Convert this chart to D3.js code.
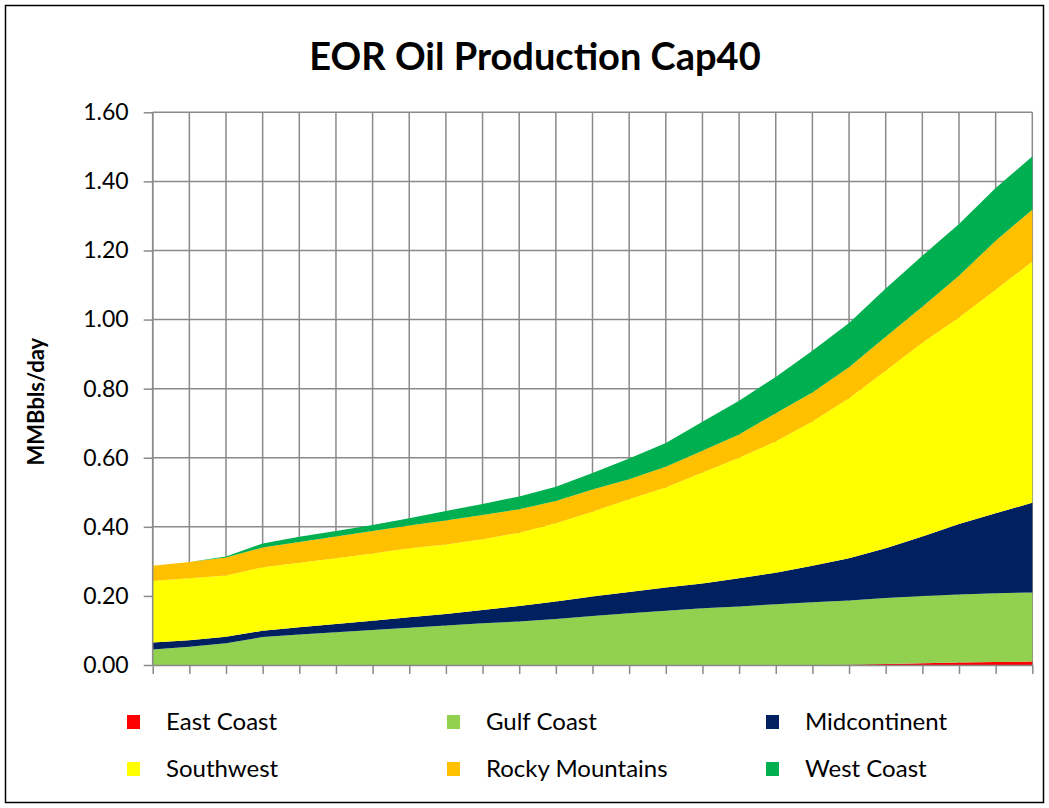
<!DOCTYPE html>
<html>
<head>
<meta charset="utf-8">
<script src="https://cdn.jsdelivr.net/npm/d3@7"></script>
<style>
  html, body { margin: 0; padding: 0; background: #fff; }
  svg { display: block; font-family: Lato, "Open Sans", sans-serif; }
</style>
</head>
<body>
<svg id="chart" width="1049" height="808"></svg>
<script>
// Time steps along the horizontal axis (unlabelled in the chart)
const periods = [1, 2, 3, 4, 5, 6, 7, 8, 9, 10, 11, 12, 13, 14, 15, 16, 17, 18, 19, 20, 21, 22, 23, 24, 25];

// Regional EOR oil production, MMBbls/day
const eastCoast      = [0, 0, 0, 0, 0, 0, 0, 0, 0, 0, 0, 0, 0, 0, 0, 0, 0, 0, 0, 0.001, 0.003, 0.005, 0.007, 0.009, 0.010];
const gulfCoast      = [0.045, 0.053, 0.063, 0.081, 0.088, 0.095, 0.101, 0.108, 0.114, 0.121, 0.126, 0.133, 0.142, 0.150, 0.157, 0.164, 0.169, 0.176, 0.182, 0.186, 0.191, 0.195, 0.197, 0.199, 0.200];
const midcontinent   = [0.020, 0.019, 0.019, 0.018, 0.021, 0.024, 0.027, 0.030, 0.034, 0.038, 0.045, 0.051, 0.056, 0.061, 0.067, 0.072, 0.082, 0.091, 0.105, 0.122, 0.144, 0.172, 0.204, 0.231, 0.260];
const southwest      = [0.178, 0.179, 0.177, 0.184, 0.187, 0.190, 0.195, 0.200, 0.201, 0.205, 0.212, 0.226, 0.246, 0.269, 0.290, 0.321, 0.349, 0.380, 0.418, 0.463, 0.514, 0.561, 0.598, 0.647, 0.698];
const rockyMountains = [0.044, 0.047, 0.052, 0.057, 0.060, 0.063, 0.065, 0.066, 0.069, 0.070, 0.068, 0.065, 0.064, 0.058, 0.060, 0.063, 0.067, 0.082, 0.084, 0.090, 0.098, 0.104, 0.121, 0.142, 0.150];
const westCoast      = [0, 0, 0.003, 0.012, 0.015, 0.016, 0.017, 0.021, 0.028, 0.032, 0.037, 0.041, 0.048, 0.060, 0.069, 0.084, 0.098, 0.105, 0.121, 0.128, 0.140, 0.148, 0.150, 0.153, 0.154];

const seriesNames = ["East Coast", "Gulf Coast", "Midcontinent", "Southwest", "Rocky Mountains", "West Coast"];
const seriesValues = [eastCoast, gulfCoast, midcontinent, southwest, rockyMountains, westCoast];
const seriesColors = ["#FF0000", "#92D050", "#002060", "#FFFF00", "#FFC000", "#00B050"];

const yTicks = [0, 0.2, 0.4, 0.6, 0.8, 1.0, 1.2, 1.4, 1.6];
const chartTitle = "EOR Oil Production Cap40";
const yAxisTitle = "MMBbls/day";

// Rows for d3.stack
const table = periods.map((p, i) => {
  const row = { period: p };
  seriesNames.forEach((name, k) => { row[name] = seriesValues[k][i]; });
  return row;
});

const svg = d3.select("#chart");
const W = 1049, H = 808;
const plot = { left: 152.7, right: 1032.3, top: 112.3, bottom: 665 };
const gridColor = "#8a8a8a";

// Outer chart frame
svg.append("rect")
  .attr("x", 5.5).attr("y", 5.5)
  .attr("width", W - 11).attr("height", H - 11)
  .attr("fill", "#fff").attr("stroke", "#000").attr("stroke-width", 1.5);

const x = d3.scalePoint().domain(periods).range([plot.left, plot.right]).padding(0);
const y = d3.scaleLinear().domain([0, 1.6]).range([plot.bottom, plot.top]);

// Gridlines
const grid = svg.append("g").attr("stroke", gridColor).attr("stroke-width", 1.5);
grid.selectAll("line.h").data(yTicks).join("line")
  .attr("class", "h")
  .attr("x1", plot.left).attr("x2", plot.right)
  .attr("y1", d => y(d)).attr("y2", d => y(d));
grid.selectAll("line.v").data(periods).join("line")
  .attr("class", "v")
  .attr("x1", d => x(d)).attr("x2", d => x(d))
  .attr("y1", plot.top).attr("y2", plot.bottom);

// Stacked areas
const stack = d3.stack().keys(seriesNames);
const layers = stack(table);
const area = d3.area()
  .x(d => x(d.data.period))
  .y0(d => y(d[0]))
  .y1(d => y(d[1]));

svg.append("g").selectAll("path").data(layers).join("path")
  .attr("d", area)
  .attr("fill", (d, i) => seriesColors[i]);

// Axes
const yAxis = d3.axisLeft(y).tickValues(yTicks).tickFormat(d3.format(".2f")).tickSize(9).tickPadding(15);
const gy = svg.append("g").attr("transform", `translate(${plot.left},0)`).call(yAxis);
const xAxis = d3.axisBottom(x).tickFormat("").tickSize(9).tickSizeOuter(0);
const gx = svg.append("g").attr("transform", `translate(0,${plot.bottom})`).call(xAxis);

[gx, gy].forEach(g => {
  g.select(".domain").attr("stroke", gridColor).attr("stroke-width", 1.5);
  g.selectAll(".tick line").attr("stroke", gridColor).attr("stroke-width", 1.5);
});
gy.select(".domain").attr("d", `M0,${plot.bottom}V${plot.top}`);
gy.selectAll(".tick text")
  .attr("fill", "#000")
  .style("font-family", "Lato, sans-serif")
  .style("font-size", "23px");

// Titles
svg.append("text")
  .attr("x", 535).attr("y", 70)
  .attr("text-anchor", "middle")
  .style("font-size", "38px").style("font-weight", "bold")
  .text(chartTitle);

svg.append("text")
  .attr("transform", `translate(44,${(plot.top + plot.bottom) / 2 + 13}) rotate(-90)`)
  .attr("text-anchor", "middle")
  .style("font-size", "22px").style("font-weight", "bold")
  .text(yAxisTitle);

// Legend: three columns, two rows
const legend = svg.append("g");
const colX = [127, 447, 766];
const rowY = [722, 769];
seriesNames.forEach((name, i) => {
  const cx = colX[i % 3], cy = rowY[Math.floor(i / 3)];
  const g = legend.append("g").attr("transform", `translate(${cx},${cy})`);
  g.append("rect").attr("x", 0).attr("y", -7).attr("width", 13).attr("height", 14).attr("fill", seriesColors[i]);
  g.append("text").attr("x", 39).attr("y", 0).attr("dy", "0.35em")
    .style("font-size", "24px").text(name);
});
</script>
</body>
</html>
